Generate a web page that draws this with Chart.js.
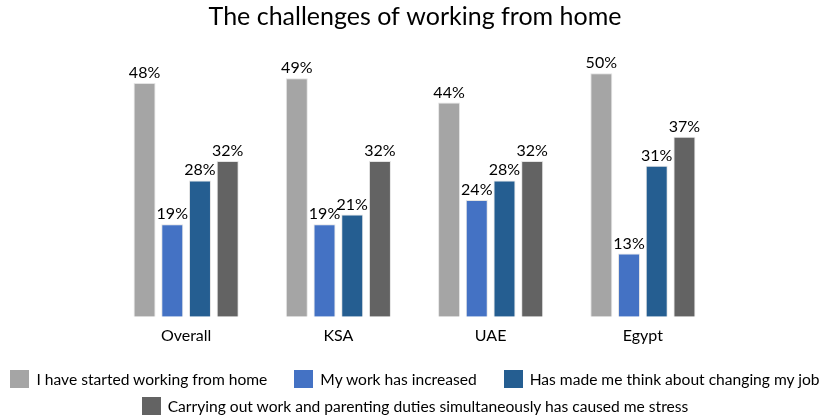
<!DOCTYPE html>
<html>
<head>
<meta charset="utf-8">
<script src="https://cdn.jsdelivr.net/npm/chart.js@4.4.1/dist/chart.umd.min.js"></script>
<style>
    html, body { margin: 0; padding: 0; background: #fff; }
    #wrap { position: relative; width: 830px; height: 418px; overflow: hidden; }
    #legend { position: absolute; left: 0; top: 365px; width: 830px; font-family: Lato, sans-serif; font-size: 15.6px; color: #000; }
    .row { display: flex; justify-content: center; gap: 27px; height: 27px; align-items: center; white-space: nowrap; }
    .item { display: flex; align-items: center; }
    .box { width: 19px; height: 18px; margin-right: 7px; }
</style>
</head>
<body>
<div id="wrap">
    <canvas id="chart" width="830" height="418"></canvas>
    <div id="legend"></div>
</div>
<script>
    // Survey: challenges of working from home (%)
    const categories = ['Overall', 'KSA', 'UAE', 'Egypt'];
    const seriesNames = [
        'I have started working from home',
        'My work has increased',
        'Has made me think about changing my job',
        'Carrying out work and parenting duties simultaneously has caused me stress'
    ];
    const startedWfh = [48, 49, 44, 50];
    const workIncreased = [19, 19, 24, 13];
    const thinkChangingJob = [28, 21, 28, 31];
    const parentingStress = [32, 32, 32, 37];
    const seriesColors = ['#A5A5A5', '#4472C4', '#255E91', '#636363'];

    const FONT = 'Lato, sans-serif';

    const barLabels = {
        id: 'barLabels',
        afterDatasetsDraw(chart) {
            const ctx = chart.ctx;
            ctx.save();
            ctx.font = '16px ' + FONT;
            ctx.fillStyle = '#000';
            ctx.textAlign = 'center';
            ctx.textBaseline = 'alphabetic';
            chart.data.datasets.forEach((ds, i) => {
                chart.getDatasetMeta(i).data.forEach((bar, j) => {
                    ctx.fillText(ds.data[j] + '%', bar.x, bar.y - 5);
                });
            });
            ctx.restore();
        }
    };

    const htmlLegend = {
        id: 'htmlLegend',
        afterUpdate(chart) {
            const box = document.getElementById('legend');
            box.innerHTML = '';
            const items = chart.options.plugins.legend.labels.generateLabels(chart);
            const rows = [items.slice(0, 3), items.slice(3)];
            rows.forEach(list => {
                const row = document.createElement('div');
                row.className = 'row';
                list.forEach(it => {
                    const el = document.createElement('div');
                    el.className = 'item';
                    el.innerHTML = `<span class="box" style="background:${it.fillStyle}"></span><span>${it.text}</span>`;
                    row.appendChild(el);
                });
                box.appendChild(row);
            });
        }
    };

    const series = [startedWfh, workIncreased, thinkChangingJob, parentingStress];

    new Chart(document.getElementById('chart'), {
        type: 'bar',
        data: {
            labels: categories,
            datasets: series.map((data, i) => ({
                label: seriesNames[i],
                data,
                backgroundColor: seriesColors[i],
                borderColor: 'rgba(225,225,225,0.9)',
                borderWidth: 1,
                categoryPercentage: 0.728,
                barPercentage: 0.794
            }))
        },
        options: {
            responsive: false,
            animation: false,
            layout: { padding: { top: 0, bottom: 64, left: 0, right: 0 } },
            plugins: {
                legend: { display: false },
                tooltip: { enabled: false },
                title: {
                    display: true,
                    text: 'The challenges of working from home',
                    color: '#000',
                    font: { family: FONT, size: 25, weight: 'normal' },
                    padding: { top: 2, bottom: 17 }
                }
            },
            scales: {
                x: {
                    grid: { display: false, drawTicks: false },
                    border: { display: false },
                    ticks: { color: '#000', font: { family: FONT, size: 16 }, padding: 9 }
                },
                y: {
                    min: 0, max: 55,
                    grid: { display: false, drawTicks: false },
                    border: { display: false },
                    ticks: { display: false },
                    afterFit(s) { s.width = 110; }
                },
                yRight: {
                    position: 'right',
                    grid: { display: false, drawTicks: false },
                    border: { display: false },
                    ticks: { display: false },
                    afterFit(s) { s.width = 111; }
                }
            }
        },
        plugins: [barLabels, htmlLegend]
    });
</script>
</body>
</html>
